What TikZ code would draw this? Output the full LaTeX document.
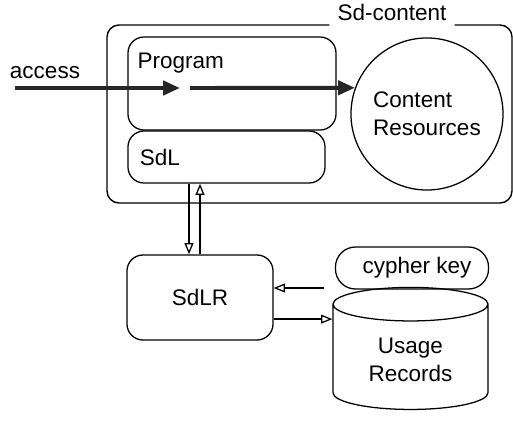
\documentclass[tikz,border=0pt]{standalone}
\usepackage{fontspec}
\setmainfont{Liberation Sans}
\usetikzlibrary{arrows.meta, positioning, shapes.geometric}

\begin{document}
\begin{tikzpicture}[
  x=0.025cm, y=-0.025cm,
  every node/.style={font=\fontsize{16}{20}\selectfont},
  box/.style={rectangle, draw, line width=0.9pt, rounded corners=0.4cm},
  keybox/.style={rectangle, draw, line width=0.9pt, rounded corners=0.5cm, minimum width=3.825cm, minimum height=1.05cm},
  store/.style={cylinder, shape border rotate=90, draw, line width=0.9pt, aspect=0.36, minimum width=3.875cm, minimum height=3.05cm, align=center},
  flow/.style={-{Triangle[length=0.42cm, width=0.35cm]}, line width=2.8pt, black!85},
  link/.style={-{Triangle[open, length=0.28cm, width=0.22cm]}, line width=0.9pt}
]
  \useasboundingbox (0,0) rectangle (513,421);

  % the Sd-content frame, broken for its title
  \node[anchor=base, inner xsep=0.2cm] (sdtitle) at (392,21) {Sd-content};
  \coordinate (sdNW) at (107,25);
  \coordinate (sdSE) at (512,203);
  \draw[line width=1pt, rounded corners=0.3cm] (sdtitle.west |- sdNW) -- (sdNW) -- (sdNW |- sdSE) -- (sdSE) -- (sdSE |- sdNW) -- (sdtitle.east |- sdNW);

  \node[box, minimum width=5.2cm, minimum height=2.325cm,
        label={[anchor=north west, inner sep=0pt, xshift=0.25cm, yshift=-0.4cm]north west:Program}] (prog) at (232,83.5) {};
  \node[box, minimum width=4.925cm, minimum height=1.3cm, text width=4.325cm, inner xsep=0.3cm, align=left] (sdl) at (226.5,157) {SdL};
  \node[circle, draw, line width=0.9pt, minimum size=3.8cm, align=left] (res) at (427,114) {Content\\Resources};

  \node[box, minimum width=3.65cm, minimum height=2.125cm] (sdlr) at (200,297.5) {SdLR};
  \node[keybox] (key) at (412,268) {\hspace{0.25cm}cypher key};
  \node[store] (rec) at (410.5,360) {Usage\\Records};

  % access path through the program
  \node[anchor=base] (acc) at (45,78) {access};
  \coordinate (accIn) at (15,88);
  \coordinate (accMid) at (180,88);
  \coordinate (accOut) at (190,88);
  \draw[flow] (accIn) -- (accMid);
  \draw[flow] (accOut) -- (res.160);

  \draw[link] ([xshift=-0.275cm]sdlr.north |- sdl.south) -- ([xshift=-0.275cm]sdlr.north);
  \draw[link] (sdlr.north) -- (sdl.south -| sdlr.north);

  \coordinate (keyIn) at (324,288);
  \draw[link] (keyIn) -- (keyIn -| sdlr.east);
  \draw[link] ([yshift=-0.54cm]sdlr.east) -- ([yshift=-0.54cm]sdlr.east -| rec.west);
\end{tikzpicture}
\end{document}
